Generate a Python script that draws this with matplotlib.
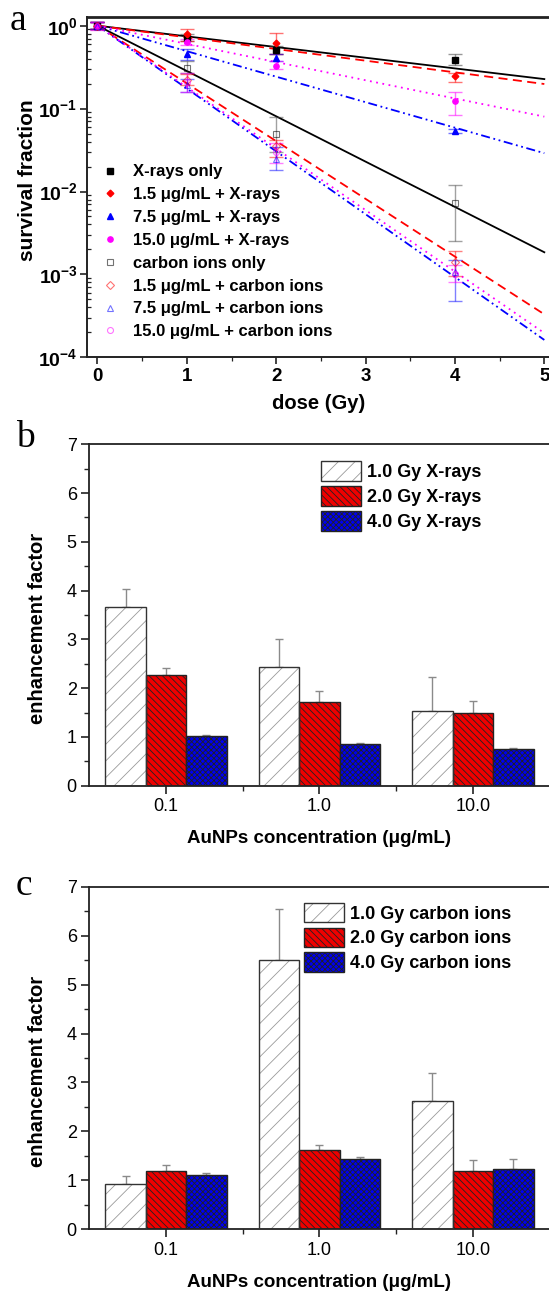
import matplotlib
matplotlib.use("Agg")
import matplotlib.pyplot as plt
import numpy as np
from matplotlib.lines import Line2D
from matplotlib.patches import Patch
from matplotlib.ticker import LogLocator, NullFormatter, FixedLocator, MultipleLocator
from matplotlib.legend_handler import HandlerTuple

plt.rcParams['font.family'] = ['Liberation Sans', 'DejaVu Sans']
plt.rcParams['mathtext.fontset'] = 'custom'
plt.rcParams['mathtext.rm'] = 'Liberation Sans:bold'
plt.rcParams['mathtext.bf'] = 'Liberation Sans:bold'
plt.rcParams['mathtext.it'] = 'Liberation Sans:bold'
plt.rcParams['hatch.linewidth'] = 0.6

# ---------------- Panel a data ----------------
dose = [0, 1, 2, 4]
fit_dose = [0, 5]
series_labels = ["X-rays only", "1.5 \u03bcg/mL + X-rays", "7.5 \u03bcg/mL + X-rays",
                 "15.0 \u03bcg/mL + X-rays", "carbon ions only", "1.5 \u03bcg/mL + carbon ions",
                 "7.5 \u03bcg/mL + carbon ions", "15.0 \u03bcg/mL + carbon ions"]
sf_xr_only = [1.0, 0.72, 0.51, 0.39]
sf_xr_15 = [1.0, 0.80, 0.61, 0.245]
sf_xr_75 = [1.0, 0.46, 0.41, 0.054]
sf_xr_150 = [1.0, 0.64, 0.33, 0.125]
sf_c_only = [1.0, 0.31, 0.05, 0.0072]
sf_c_15 = [1.0, 0.22, 0.035, 0.0014]
sf_c_75 = [1.0, 0.19, 0.025, 0.00106]
sf_c_150 = [1.0, 0.21, 0.030, 0.0010]

lo_xr_only = [0.9, 0.66, 0.45, 0.34]
hi_xr_only = [1.1, 0.79, 0.57, 0.45]
lo_xr_15 = [0.9, 0.65, 0.46, 0.21]
hi_xr_15 = [1.1, 0.90, 0.81, 0.27]
lo_xr_75 = [0.9, 0.39, 0.37, 0.051]
hi_xr_75 = [1.1, 0.52, 0.45, 0.057]
lo_xr_150 = [0.9, 0.58, 0.30, 0.084]
hi_xr_150 = [1.1, 0.70, 0.37, 0.157]
lo_c_only = [0.9, 0.27, 0.03, 0.0025]
hi_c_only = [1.1, 0.38, 0.08, 0.012]
lo_c_15 = [0.9, 0.19, 0.026, 0.00095]
hi_c_15 = [1.1, 0.26, 0.042, 0.0019]
lo_c_75 = [0.9, 0.16, 0.018, 0.00048]
hi_c_75 = [1.1, 0.23, 0.034, 0.0015]
lo_c_150 = [0.88, 0.16, 0.022, 0.0008]
hi_c_150 = [1.12, 0.27, 0.038, 0.0013]

# fitted survival at 0 and 5 Gy
fit_xr_only = [1.0, 0.227]
fit_xr_15 = [1.0, 0.198]
fit_xr_75 = [1.0, 0.029]
fit_xr_150 = [1.0, 0.080]
fit_c_only = [1.0, 0.00185]
fit_c_15 = [1.0, 0.00033]
fit_c_75 = [1.0, 0.000162]
fit_c_150 = [1.0, 0.000196]

# ---------------- Panel b / c data ----------------
conc_labels = ["0.1", "1.0", "10.0"]
xr_labels = ["1.0 Gy X-rays", "2.0 Gy X-rays", "4.0 Gy X-rays"]
c_labels = ["1.0 Gy carbon ions", "2.0 Gy carbon ions", "4.0 Gy carbon ions"]
ef_xr_1 = [3.66, 2.44, 1.54]
ef_xr_2 = [2.28, 1.71, 1.50]
ef_xr_4 = [1.02, 0.85, 0.76]
err_xr_1 = [0.38, 0.56, 0.68]
err_xr_2 = [0.13, 0.24, 0.24]
err_xr_4 = [0.02, 0.02, 0.01]
ef_c_1 = [0.93, 5.51, 2.62]
ef_c_2 = [1.19, 1.62, 1.19]
ef_c_4 = [1.10, 1.43, 1.24]
err_c_1 = [0.16, 1.04, 0.57]
err_c_2 = [0.12, 0.10, 0.22]
err_c_4 = [0.05, 0.05, 0.20]

W, H = 549, 1295
fig = plt.figure(figsize=(W / 100, H / 100), dpi=100)

def ax_at(left, top, right, bottom):
    return fig.add_axes([left / W, 1 - bottom / H, (right - left) / W, (bottom - top) / H])

spine_col = '#222222'

# ================= Panel a =================
ax = ax_at(87.3, 16.7, 549.5, 357.3)
ax.set_yscale('log')
styles = [
    (sf_xr_only, lo_xr_only, hi_xr_only, fit_xr_only, 'black', 's', True, '-'),
    (sf_xr_15, lo_xr_15, hi_xr_15, fit_xr_15, '#ff0000', 'D', True, (0, (5, 3))),
    (sf_xr_75, lo_xr_75, hi_xr_75, fit_xr_75, '#0000ff', '^', True, (0, (5, 2, 1, 2, 1, 2))),
    (sf_xr_150, lo_xr_150, hi_xr_150, fit_xr_150, '#ff00ff', 'o', True, (0, (1, 2.5))),
    (sf_c_only, lo_c_only, hi_c_only, fit_c_only, 'black', 's', False, '-'),
    (sf_c_15, lo_c_15, hi_c_15, fit_c_15, '#ff0000', 'D', False, (0, (5, 3))),
    (sf_c_75, lo_c_75, hi_c_75, fit_c_75, '#0000ff', '^', False, (0, (5, 2, 1, 2, 1, 2))),
    (sf_c_150, lo_c_150, hi_c_150, fit_c_150, '#ff00ff', 'o', False, (0, (1, 2.5))),
]
handles = []
for (sf, lo, hi, fit, col, mk, filled, ls), lab in zip(styles, series_labels):
    sf = np.array(sf); lo = np.array(lo); hi = np.array(hi)
    ax.plot(fit_dose, fit, color=col, ls=ls, lw=1.3, zorder=2)
    ecol = col if col != 'black' else '#444444'
    ax.errorbar(dose, sf, yerr=[sf - lo, hi - sf], fmt='none', ecolor=ecol,
                elinewidth=1.0, capsize=5, capthick=1.0, alpha=0.5 if not filled else 0.55, zorder=3)
    ms = 3.8 if mk != 'D' else 3.4
    if filled:
        ax.plot(dose, sf, ls='none', marker=mk, ms=ms, color=col, mec=col, zorder=4)
        h = Line2D([], [], ls='none', marker=mk, ms=ms, color=col, mec=col)
    else:
        ax.plot(dose, sf, ls='none', marker=mk, ms=ms + 0.5, mfc='none', mec=col, mew=0.8,
                alpha=0.55, zorder=4)
        h = Line2D([], [], ls='none', marker=mk, ms=ms + 0.5, mfc='none', mec=col, mew=0.8, alpha=0.55)
    handles.append(h)

ax.set_xlim(-0.114, 5.058)
ax.set_ylim(1e-4, 1.284)
ax.xaxis.set_major_locator(FixedLocator([0, 1, 2, 3, 4, 5]))
ax.xaxis.set_minor_locator(MultipleLocator(0.5))
ax.yaxis.set_minor_locator(LogLocator(base=10, subs=np.arange(2, 10), numticks=20))
ax.yaxis.set_minor_formatter(NullFormatter())
ax.set_yticks([1e-4, 1e-3, 1e-2, 1e-1, 1])
ax.set_yticklabels([r'$\mathbf{10^{-4}}$', r'$\mathbf{10^{-3}}$', r'$\mathbf{10^{-2}}$',
                    r'$\mathbf{10^{-1}}$', r'$\mathbf{10^{0}}$'], fontsize=14)
ax.set_xticklabels(['0', '1', '2', '3', '4', '5'], fontweight='bold')
ax.tick_params(axis='both', which='major', direction='out', length=5, width=1.2,
               labelsize=13.5, pad=3, color=spine_col)
ax.tick_params(axis='y', which='major', labelsize=14, pad=2)
ax.tick_params(axis='y', which='minor', direction='in', length=3, width=0.9, color=spine_col)
ax.tick_params(axis='x', which='minor', direction='out', length=3, width=0.9, color=spine_col)
for s in ax.spines.values():
    s.set_linewidth(1.4)
    s.set_color(spine_col)
ax.spines['top'].set_linewidth(2.0)
ax.set_xlabel('dose (Gy)', fontsize=14.5, fontweight='bold', labelpad=6.5)
ax.set_ylabel('survival fraction', fontsize=15, fontweight='bold')
ax.yaxis.set_label_coords(-0.108, 0.52)
leg = ax.legend(handles, series_labels, loc='upper left', bbox_to_anchor=(0.0095, 0.591),
                frameon=False, prop={'weight': 'bold', 'size': 12},
                handlelength=1.2, handletextpad=0.78, labelspacing=0.47, borderpad=0)
fig.text(18 / W, 1 - 30 / H, 'a', family='Liberation Serif', fontsize=27, ha='center', va='baseline')

# ================= Panels b and c =================
def bar_panel(top, bottom, v1, v2, v4, e1, e2, e4, labels, leg_anchor, letter, lpos):
    ax = ax_at(89.3, top, 549.5, bottom)
    x = np.arange(len(conc_labels))
    w = 0.264
    for off, vals, errs in [(-w, v1, e1), (0, v2, e2), (w, v4, e4)]:
        ax.errorbar(x + off, vals, yerr=[np.zeros(len(vals)), errs], fmt='none',
                    ecolor='#8a8a8a', elinewidth=1.0, capsize=3, capthick=1.0, zorder=1)
    ax.bar(x - w, v1, w, color='white', edgecolor='#9a9a9a', hatch='//', lw=0, zorder=2)
    ax.bar(x - w, v1, w, fill=False, edgecolor='#333333', lw=1.0, zorder=3)
    b2 = ax.bar(x, v2, w, color='#ee0000', edgecolor='#222222', hatch='\\\\\\\\\\', lw=1.0, zorder=2)
    b4 = ax.bar(x + w, v4, w, color='#0000ee', edgecolor='#222222', hatch='xxxxxx', lw=1.0, zorder=2)
    ax.set_xlim(-0.5, 2.5)
    ax.set_ylim(0, 7)
    ax.set_xticks(x)
    ax.set_xticklabels(conc_labels)
    ax.xaxis.set_minor_locator(FixedLocator([0.5, 1.5]))
    ax.yaxis.set_major_locator(MultipleLocator(1))
    ax.yaxis.set_minor_locator(MultipleLocator(0.5))
    ax.tick_params(axis='both', which='major', direction='out', length=6, width=1.2,
                   labelsize=13, pad=3, color=spine_col)
    ax.tick_params(axis='both', which='minor', direction='out', length=3.5, width=1.0, color=spine_col)
    for s in ax.spines.values():
        s.set_linewidth(1.3)
        s.set_color(spine_col)
    ax.set_xlabel('AuNPs concentration (\u03bcg/mL)', fontsize=13.5, fontweight='bold', labelpad=11)
    ax.set_ylabel('enhancement factor', fontsize=14.5, fontweight='bold')
    ax.yaxis.set_label_coords(-0.092, 0.46)
    hw = Patch(facecolor='white', edgecolor='#9a9a9a', hatch='//', lw=0)
    he = Patch(fill=False, edgecolor='#333333', lw=1.0)
    ax.legend([(hw, he), b2, b4], labels, loc='upper left', bbox_to_anchor=leg_anchor,
              frameon=False, prop={'weight': 'bold', 'size': 13},
              handler_map={tuple: HandlerTuple(ndivide=1, pad=0)},
              handlelength=2.2, handleheight=1.3, handletextpad=0.35,
              labelspacing=0.27, borderpad=0, borderaxespad=0)
    fig.text(lpos[0] / W, 1 - lpos[1] / H, letter, family='Liberation Serif', fontsize=27,
             ha='center', va='baseline')
    return ax

bar_panel(444.3, 785.7, ef_xr_1, ef_xr_2, ef_xr_4, err_xr_1, err_xr_2, err_xr_4,
          xr_labels, (0.503, 0.95), 'b', (25, 446.7))
bar_panel(886.7, 1229.3, ef_c_1, ef_c_2, ef_c_4, err_c_1, err_c_2, err_c_4,
          c_labels, (0.467, 0.953), 'c', (24, 895))

fig.savefig('out.png', dpi=100)
